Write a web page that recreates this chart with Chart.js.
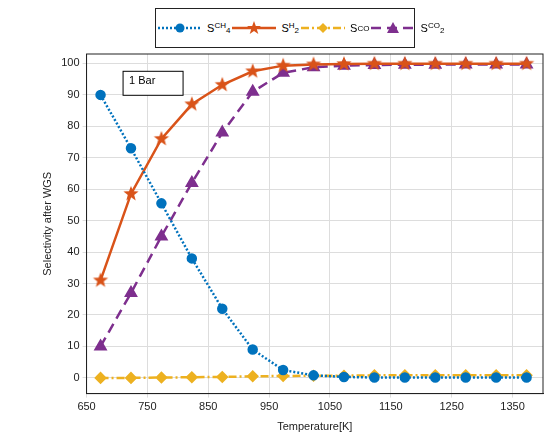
<!DOCTYPE html><html><head><script src="https://cdn.jsdelivr.net/npm/chart.js"></script>
<style>body{margin:0;background:#fff;font-family:Arial,"Liberation Sans",sans-serif}#w{position:relative;width:560px;height:446px}
#lg{position:absolute;left:155px;top:8px;width:258px;height:38px;border:1px solid #222;background:#fff;font-size:11px;display:flex;align-items:center;justify-content:space-around}
#lg span{display:flex;align-items:center}sub{font-size:8px;vertical-align:-5px}</style></head><body><div id="w"><canvas id="c" width="560" height="446"></canvas>
<div id="lg"></div></div>
<script>
const temps=[673,723,773,823,873,923,973,1023,1073,1123,1173,1223,1273,1323,1373];
const sCH4=[90,73,55.5,38,22,9,2.5,0.8,0.3,0.1,0.1,0.1,0.1,0.1,0.1];
const sH2=[31,58.5,76,87,93.2,97.5,99.3,99.7,99.8,99.9,99.9,99.9,99.9,99.9,99.9];
const sCO=[0,0,0.1,0.2,0.3,0.5,0.6,0.7,0.7,0.8,0.8,0.8,0.8,0.8,0.8];
const sCO2=[10,27,45,62,78,91,97,98.8,99.3,99.5,99.6,99.6,99.7,99.7,99.7];
const xTicks=[650,750,850,950,1050,1150,1250,1350];
const yTicks=[0,10,20,30,40,50,60,70,80,90,100];
const pts=a=>a.map((v,i)=>({x:temps[i],y:v}));
function starImg(col,R){const c=document.createElement('canvas');c.width=c.height=2*R+2;const g=c.getContext('2d');g.beginPath();
for(let i=0;i<10;i++){const r=i%2?R*0.42:R,a=-Math.PI/2+i*Math.PI/5;g.lineTo(R+1+r*Math.cos(a),R+1+r*Math.sin(a));}
g.closePath();g.fillStyle=col;g.fill();return c;}
const ds=[
{label:'CH4',sub:'CH<sub>4</sub>',data:pts(sCH4),borderColor:'#0072BD',backgroundColor:'#0072BD',borderDash:[2,2],pointStyle:'circle',pointRadius:4,borderWidth:2.5},
{label:'H2',sub:'H<sub>2</sub>',data:pts(sH2),borderColor:'#D95319',backgroundColor:'#D95319',borderDash:[],pointStyle:starImg('#D95319',8),pointRadius:8,borderWidth:2.5},
{label:'CO',sub:'CO',data:pts(sCO),borderColor:'#EDB120',backgroundColor:'#EDB120',borderDash:[8,3,2,3],pointStyle:'rectRot',pointRadius:4.5,borderWidth:2.5},
{label:'CO2',sub:'CO<sub>2</sub>',data:pts(sCO2),borderColor:'#7E2F8E',backgroundColor:'#7E2F8E',borderDash:[10,6],pointStyle:'triangle',pointRadius:5.5,borderWidth:2.5}];
const lg=document.getElementById('lg');
ds.forEach(d=>{const s=document.createElement('span');
const dash=d.borderDash.length?d.borderDash.join(','):'none';
let mk='';if(d.label=='CH4')mk='<circle cx="24" cy="7" r="4.5" fill="'+d.borderColor+'"/>';
else if(d.label=='H2')mk='<polygon points="24,0 25.8,5 31,5 26.8,8.2 28.3,13 24,10 19.7,13 21.2,8.2 17,5 22.2,5" fill="'+d.borderColor+'"/>';
else if(d.label=='CO')mk='<polygon points="24,2 29,7 24,12 19,7" fill="'+d.borderColor+'"/>';
else mk='<polygon points="24,1 30,12 18,12" fill="'+d.borderColor+'"/>';
s.innerHTML='<svg width="48" height="14"><line x1="2" y1="7" x2="46" y2="7" stroke="'+d.borderColor+'" stroke-width="2.5" stroke-dasharray="'+dash+'"/>'+mk+'</svg>&nbsp;S<sub>'+d.sub+'</sub>';
lg.appendChild(s);});
const box={id:'box',afterDraw(c){const x=c.scales.x,y=c.scales.y,g=c.ctx;
const l=x.getPixelForValue(710),t=y.getPixelForValue(97.5);g.save();g.fillStyle='#fff';g.strokeStyle='#000';g.lineWidth=1;
g.fillRect(l,t,60,24);g.strokeRect(l,t,60,24);g.fillStyle='#000';g.font='11px Arial';g.textBaseline='middle';g.fillText('1 Bar',l+6,t+10);
g.strokeStyle='#222';g.strokeRect(c.chartArea.left,c.chartArea.top,c.chartArea.width,c.chartArea.height);g.restore();}};
new Chart(document.getElementById('c'),{type:'line',data:{datasets:ds},plugins:[box],
options:{animation:false,responsive:false,layout:{padding:{top:54,right:17,left:37,bottom:8}},
plugins:{legend:{display:false},tooltip:{enabled:false}},
scales:{x:{type:'linear',min:650,max:1400,afterBuildTicks:a=>{a.ticks=xTicks.map(v=>({value:v}))},
grid:{color:'#ddd',tickLength:4},border:{color:'#222'},ticks:{color:'#222',font:{size:11},callback:v=>String(v)},title:{display:true,text:'Temperature[K]',color:'#222',font:{size:11}}},
y:{min:-5,max:103,afterBuildTicks:a=>{a.ticks=yTicks.map(v=>({value:v}))},
grid:{color:'#ddd',tickLength:4},border:{color:'#222'},ticks:{color:'#222',font:{size:11}},title:{display:true,text:'Selectivity after WGS',color:'#222',font:{size:11}}}}}});
</script></body></html>
